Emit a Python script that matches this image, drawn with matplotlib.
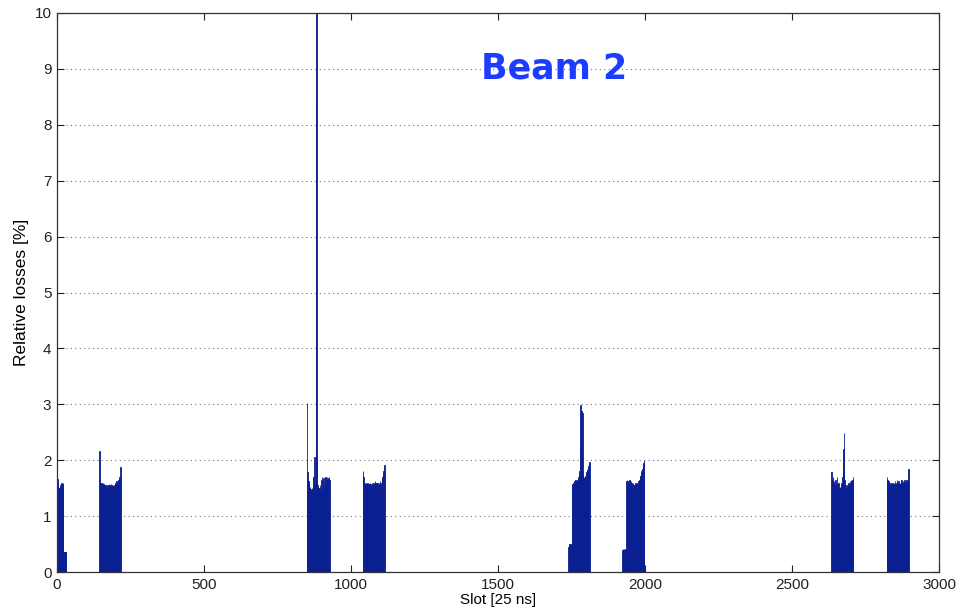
import matplotlib
matplotlib.use("Agg")
import matplotlib.pyplot as plt
import numpy as np

# Relative losses per bunch, grouped by injected train (50 ns spacing = 2 slots)
train_starts = [0, 144, 850, 1040, 1738, 1922, 2634, 2822]
train_losses = [
    [1.67, 1.60, 1.50, 1.45, 1.50, 1.55, 1.58, 1.60, 1.55, 1.58, 1.60,
     0.35, 0.35, 0.35, 0.35, 0.35],
    [2.17, 1.60, 1.58, 1.60, 1.57, 1.56, 1.60, 1.58, 1.55, 1.52, 1.55, 1.50,
     1.52, 1.55, 1.50, 1.53, 1.58, 1.55, 1.52, 1.58, 1.55, 1.50, 1.53, 1.55,
     1.52, 1.55, 1.58, 1.60, 1.58, 1.62, 1.60, 1.62, 1.65, 1.63, 1.70, 1.88],
    [3.02, 1.78, 1.62, 1.55, 1.50, 1.52, 1.48, 1.45, 1.50, 1.48, 1.55, 1.70,
     2.05, 1.60, 1.55, 8.50, 10.0, 2.05, 1.55, 1.50, 1.40, 1.50, 1.55, 1.45,
     1.65, 1.70, 1.55, 1.60, 1.68, 1.50, 1.65, 1.70, 1.68, 1.60, 1.70, 1.65,
     1.68, 1.70, 1.65],
    [1.80, 1.70, 1.60, 1.58, 1.55, 1.60, 1.58, 1.55, 1.60, 1.57, 1.55, 1.58,
     1.60, 1.55, 1.58, 1.60, 1.56, 1.55, 1.60, 1.58, 1.62, 1.60, 1.55, 1.60,
     1.58, 1.60, 1.55, 1.60, 1.58, 1.62, 1.60, 1.55, 1.65, 1.70, 1.75, 1.80,
     1.92],
    [0.45, 0.48, 0.50, 0.48, 0.50, 0.50, 1.55, 1.58, 1.56, 1.60, 1.58, 1.62,
     1.65, 1.60, 1.62, 1.58, 1.65, 1.70, 1.75, 1.80, 2.20, 2.99, 2.75, 2.88,
     2.85, 1.75, 1.65, 1.70, 1.68, 1.72, 1.75, 1.78, 1.85, 1.80, 1.90, 1.95,
     1.97],
    [0.40, 0.42, 0.40, 0.42, 0.40, 0.42, 0.40, 1.62, 1.65, 1.60, 1.62, 1.58,
     1.65, 1.60, 1.55, 1.62, 1.60, 1.58, 1.60, 1.55, 1.50, 1.55, 1.60, 1.58,
     1.55, 1.58, 1.60, 1.62, 1.58, 1.65, 1.70, 1.72, 1.75, 1.80, 1.85, 1.90,
     1.95, 2.00],
    [1.78, 1.65, 1.70, 1.60, 1.62, 1.55, 1.65, 1.50, 1.58, 1.70, 1.55, 1.50,
     1.60, 1.48, 1.52, 1.50, 1.55, 1.60, 1.70, 1.90, 2.20, 2.48, 1.65, 1.50,
     1.48, 1.55, 1.50, 1.52, 1.55, 1.60, 1.58, 1.62, 1.60, 1.65, 1.62, 1.65,
     1.70],
    [1.70, 1.65, 1.60, 1.62, 1.55, 1.58, 1.60, 1.55, 1.58, 1.60, 1.55, 1.57,
     1.60, 1.58, 1.62, 1.55, 1.60, 1.65, 1.58, 1.60, 1.62, 1.58, 1.60, 1.55,
     1.62, 1.65, 1.60, 1.62, 1.60, 1.58, 1.65, 1.62, 1.60, 1.65, 1.62, 1.60,
     1.65, 1.85],
]
bunch_spacing = 2

x_ticks = [0, 500, 1000, 1500, 2000, 2500, 3000]
y_ticks = list(range(0, 11))

slots = np.concatenate([s + bunch_spacing * np.arange(len(v))
                        for s, v in zip(train_starts, train_losses)])
losses = np.concatenate([np.asarray(v, float) for v in train_losses])

plt.rcParams['font.family'] = ['Liberation Sans', 'DejaVu Sans']

fig = plt.figure(figsize=(9.61, 6.14), dpi=100)
ax = fig.add_axes([57 / 961, 42 / 614, 882 / 961, 559 / 614])

bar_color = '#0a1f92'
ax.bar(slots, losses, width=bunch_spacing, align='edge', color=bar_color,
       edgecolor=bar_color, linewidth=0.6, zorder=2)

ax.set_xlim(0, 3000)
ax.set_ylim(0, 10)
ax.set_xticks(x_ticks)
ax.set_yticks(y_ticks)
ax.yaxis.grid(True, linestyle=(0, (1, 3)), color='#777777', linewidth=0.8)
ax.set_axisbelow(True)

ax.tick_params(direction='in', length=5, width=0.8, labelsize=11,
               top=True, right=True, colors='#222222', pad=4)
for sp in ax.spines.values():
    sp.set_color('#333333')
    sp.set_linewidth(0.9)

ax.set_xlabel('Slot [25 ns]', fontsize=11, labelpad=1)
ax.set_ylabel('Relative losses [%]', fontsize=12.5, labelpad=4)

ax.text(1692, 9.0, 'Beam 2', fontsize=25, fontweight='bold',
        family='DejaVu Sans', color='#1c3cff', ha='center', va='center',
        zorder=5)

fig.savefig('out.png', dpi=100, facecolor='white')
